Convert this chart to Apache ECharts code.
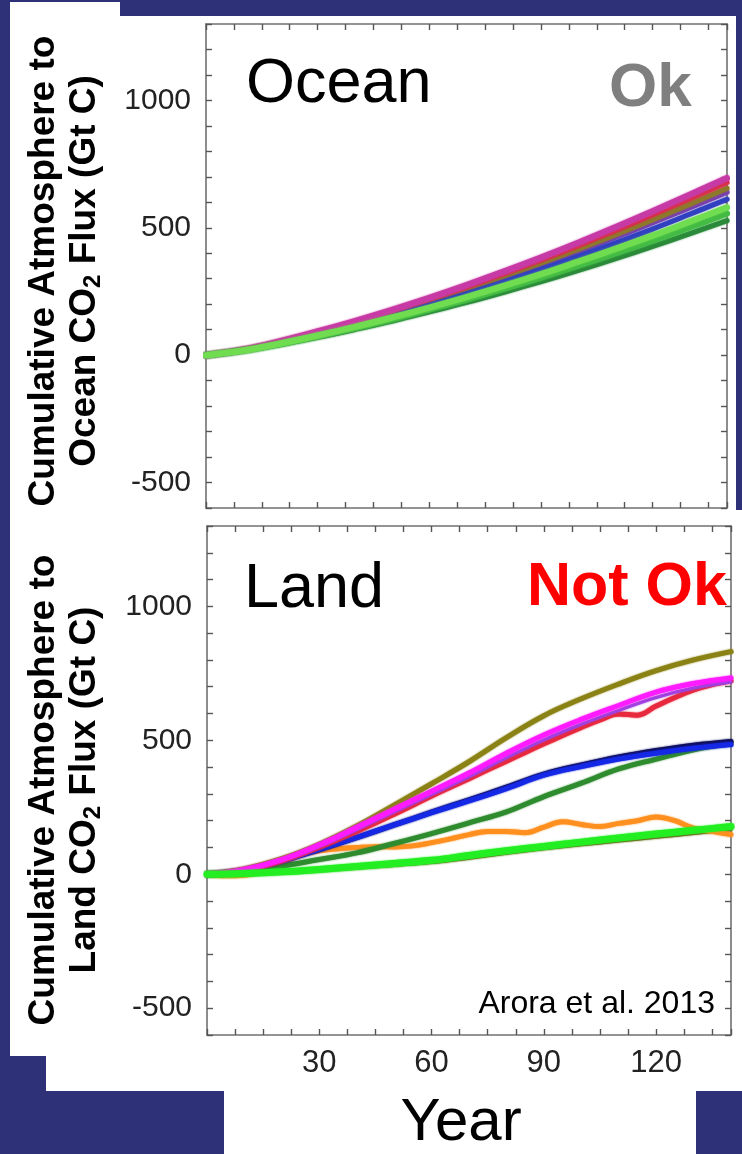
<!DOCTYPE html>
<html>
<head>
<meta charset="utf-8">
<script src="https://cdn.jsdelivr.net/npm/echarts@6/dist/echarts.min.js"></script>
<style>
  html, body { margin: 0; padding: 0; background: #2e3178; }
  #chart { width: 742px; height: 1154px; }
</style>
</head>
<body>
<div id="chart"></div>
<script>
// ---- data: cumulative atmosphere-to-surface CO2 flux (Gt C), 1% per year CO2 runs ----
const years10 = [0, 10, 20, 30, 40, 50, 60, 70, 80, 90, 100, 110, 120, 130, 140];
const years5 = [0, 5, 10, 15, 20, 25, 30, 35, 40, 45, 50, 55, 60, 65, 70, 75, 80, 85, 90, 95, 100, 105, 110, 115, 120, 125, 130, 135, 140];

// ocean uptake, one array per model
const oceanMagenta   = [0, 22, 55, 93, 134, 178, 225, 275, 328, 383, 441, 502, 565, 630, 695];
const oceanRed       = [0, 21, 54, 91, 131, 174, 220, 268, 320, 374, 430, 490, 551, 614, 678];
const oceanOlive     = [0, 21, 52, 88, 126, 168, 212, 259, 309, 361, 416, 473, 532, 593, 655];
const oceanPurple    = [0, 20, 51, 86, 123, 164, 207, 253, 302, 353, 406, 462, 520, 579, 640];
const oceanBlue      = [0, 19, 49, 82, 117, 156, 197, 241, 287, 336, 387, 440, 495, 553, 612];
const oceanLightGrn  = [0, 18, 46, 77, 111, 148, 187, 228, 272, 318, 367, 417, 469, 524, 580];
const oceanGreen     = [0, 18, 44, 74, 106, 141, 179, 218, 260, 304, 351, 399, 449, 502, 556];
const oceanDarkGreen = [0, 17, 42, 70, 101, 134, 170, 207, 247, 289, 333, 379, 427, 477, 528];

// land uptake, one array per model
const landOlive     = [0, 20, 58, 112, 180, 258, 338, 420, 510, 592, 655, 710, 760, 800, 831];
const landMagenta   = [0, 18, 55, 110, 175, 243, 310, 378, 452, 520, 578, 630, 680, 712, 733];
const landPurple    = [0, 17, 52, 104, 167, 233, 298, 364, 435, 502, 560, 612, 660, 695, 718];
const landBlue      = [0, 15, 50, 93, 138, 184, 230, 274, 320, 370, 402, 430, 452, 470, 484];
const landNavy      = [0, 15, 50, 92, 137, 184, 232, 278, 325, 374, 408, 438, 462, 482, 496];
const landDarkGreen = [0, 10, 30, 55, 80, 115, 152, 192, 233, 290, 340, 393, 430, 465, 490];
const landLightGrn  = [0, 3, 9, 18, 29, 40, 52, 70, 88, 104, 120, 135, 150, 164, 178];
const landDarkOlive = [0, 2, 7, 14, 23, 33, 44, 60, 78, 95, 110, 124, 138, 152, 166];
const landRed       = [0, 5, 15, 30, 50, 74, 101, 130, 160, 191, 224, 258, 292, 325, 357, 390, 422, 455, 487, 518, 548, 576, 598, 594, 628, 660, 688, 708, 722];
const landOrange    = [0, -6, -4, 12, 40, 72, 88, 95, 100, 103, 102, 106, 118, 132, 148, 160, 160, 155, 176, 196, 186, 178, 190, 200, 214, 200, 172, 160, 148];

const yearTickLabels = [30, 60, 90, 120];
const fluxTickLabels = [-500, 0, 500, 1000];

// ---- drawing ----
const FONT = '"Liberation Sans", Arial, Helvetica, sans-serif';
const pairs = (xs, ys) => xs.map((x, i) => [x, ys[i]]);

function line(name, grid, xs, ys, color, width) {
  return {
    name, type: 'line', xAxisIndex: grid * 2, yAxisIndex: grid * 2,
    data: pairs(xs, ys), smooth: 0.4, showSymbol: false, silent: true,
    lineStyle: { color, width, cap: 'round', join: 'round', shadowColor: color, shadowBlur: 2 }, z: 3
  };
}

function xAxisFor(grid, position, labels) {
  return {
    type: 'value', gridIndex: grid, position, min: 0, max: 140, interval: 7.5,
    axisLine: { show: true, onZero: false, lineStyle: { color: '#707070', width: 1.6 } },
    axisTick: { show: true, inside: true, length: 6, interval: 0, lineStyle: { color: '#555', width: 1.4 } },
    axisLabel: {
      show: labels, interval: 0, margin: 13, color: '#222', fontSize: 31, fontFamily: FONT,
      formatter: v => (yearTickLabels.includes(v) ? String(v) : '')
    },
    splitLine: { show: false }
  };
}

function yAxisFor(grid, position, labels) {
  return {
    type: 'value', gridIndex: grid, position, min: -600, max: 1300, interval: 100,
    axisLine: { show: true, onZero: false, lineStyle: { color: '#707070', width: 1.6 } },
    axisTick: { show: true, inside: true, length: 6, interval: 0, lineStyle: { color: '#555', width: 1.4 } },
    axisLabel: {
      show: labels, interval: 0, margin: 15, color: '#222', fontSize: 30, fontFamily: FONT,
      formatter: v => (fluxTickLabels.includes(v) ? String(v) : '')
    },
    splitLine: { show: false }
  };
}

function panelRect(x, y, w, h) {
  return { type: 'rect', z: -10, silent: true, shape: { x, y, width: w, height: h }, style: { fill: '#ffffff' } };
}

function label(text, x, y, opts) {
  return {
    type: 'text', z: 20, silent: true, x, y,
    style: Object.assign({ text, fontFamily: FONT, fill: '#000', align: 'left', verticalAlign: 'middle' }, opts)
  };
}

function yTitle(secondLine, y) {
  return {
    type: 'text', z: 20, silent: true, x: 64, y, rotation: Math.PI / 2,
    style: {
      text: 'Cumulative Atmosphere to\n' + secondLine,
      fontFamily: FONT, fontSize: 37, fontWeight: 'bold', lineHeight: 41,
      fill: '#000', align: 'center', verticalAlign: 'middle',
      rich: { sub: { fontFamily: FONT, fontSize: 24, fontWeight: 'bold', verticalAlign: 'bottom', lineHeight: 41, fill: '#000' } }
    }
  };
}

const chart = echarts.init(document.getElementById('chart'), null, { renderer: 'canvas' });

chart.setOption({
  backgroundColor: '#2e3178',
  animation: false,
  grid: [
    { left: 206, top: 24, width: 521, height: 484 },
    { left: 207, top: 526, width: 524, height: 509 }
  ],
  xAxis: [
    xAxisFor(0, 'bottom', false), xAxisFor(0, 'top', false),
    xAxisFor(1, 'bottom', true), xAxisFor(1, 'top', false)
  ],
  yAxis: [
    yAxisFor(0, 'left', true), yAxisFor(0, 'right', false),
    yAxisFor(1, 'left', true), yAxisFor(1, 'right', false)
  ],
  series: [
    line('Ocean purple', 0, years10, oceanPurple, '#7a3fb0', 5),
    line('Ocean olive', 0, years10, oceanOlive, '#8c7a2a', 5),
    line('Ocean blue', 0, years10, oceanBlue, '#3040c0', 5),
    line('Ocean red', 0, years10, oceanRed, '#d8304a', 5),
    line('Ocean magenta', 0, years10, oceanMagenta, '#c73aa6', 6),
    line('Ocean dark green', 0, years10, oceanDarkGreen, '#2a8a3a', 5),
    line('Ocean green', 0, years10, oceanGreen, '#44bb44', 6),
    line('Ocean light green', 0, years10, oceanLightGrn, '#70dd50', 6),

    line('Land dark olive', 1, years10, landDarkOlive, '#70601a', 3),
    line('Land orange', 1, years5, landOrange, '#ff9020', 5),
    line('Land dark green', 1, years10, landDarkGreen, '#2e8b2e', 5),
    line('Land navy', 1, years10, landNavy, '#101060', 5),
    line('Land blue', 1, years10, landBlue, '#1428e6', 5),
    line('Land olive', 1, years10, landOlive, '#8a8214', 5),
    line('Land red', 1, years5, landRed, '#e8283c', 5),
    line('Land purple', 1, years10, landPurple, '#a040e0', 3),
    line('Land magenta', 1, years10, landMagenta, '#ff1aff', 5),
    line('Land light green', 1, years10, landLightGrn, '#22ee22', 7)
  ],
  graphic: [
    panelRect(10, 2, 110, 14),
    panelRect(10, 16, 726, 494),
    panelRect(10, 510, 732, 546),
    panelRect(46, 1056, 696, 35),
    panelRect(224, 1091, 472, 63),

    yTitle('Ocean CO{sub|2} Flux (Gt C)', 271),
    yTitle('Land CO{sub|2} Flux (Gt C)', 790),

    label('Ocean', 246, 85, { fontSize: 63 }),
    label('Ok', 609, 89, { fontSize: 62, fontWeight: 'bold', fill: '#7f7f7f' }),
    label('Land', 244, 590, { fontSize: 63 }),
    label('Not Ok', 527, 588, { fontSize: 61, fontWeight: 'bold', fill: '#ff0000' }),
    label('Arora et al. 2013', 715, 1004, { fontSize: 32, align: 'right' }),
    label('Year', 461, 1123, { fontSize: 60, align: 'center' })
  ]
});
</script>
</body>
</html>
